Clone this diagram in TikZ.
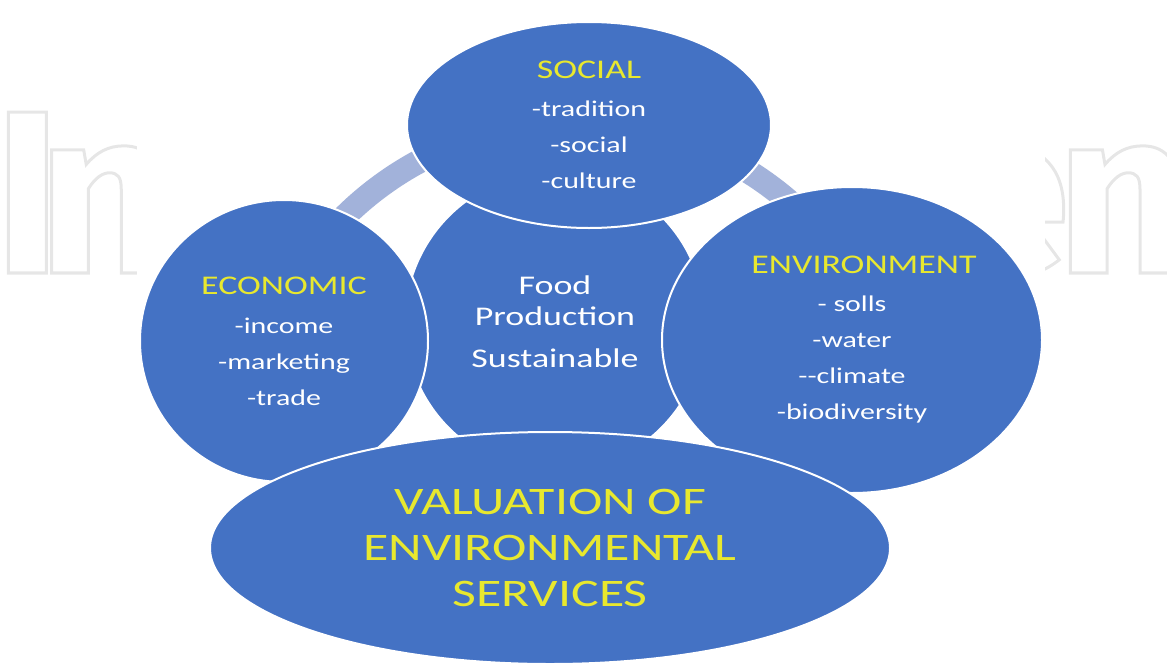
\documentclass[tikz,border=0pt]{standalone}
\usepackage{fontspec}
\setmainfont{Carlito}[FakeStretch=1.33]
\newfontfamily\markfont{Fira Sans}
\usetikzlibrary{shapes.geometric}
\definecolor{blobblue}{HTML}{4472C4}
\definecolor{ringblue}{HTML}{A2B2DA}
\definecolor{headyellow}{HTML}{E8E82E}
\definecolor{markgray}{HTML}{E6E6E6}
\newcommand{\head}[1]{{\color{headyellow}\fontsize{27}{36}\selectfont #1}}
\newcommand{\outlined}[1]{\special{pdf:literal direct 1 Tr 3 w}#1\special{pdf:literal direct 0 Tr}}

\begin{document}
\begin{tikzpicture}
    [x=1pt,y=-1pt,
     blob/.style={shape=ellipse,fill=blobblue,draw=white,line width=2pt,inner sep=0pt,
       text=white,align=center,font=\fontsize{22.5}{36}\selectfont},
     ring/.style={draw=ringblue,line width=24pt},
     wmark/.style={inner sep=0pt,text=markgray,font=\fontsize{232}{232}\selectfont\markfont\bfseries}]
  \useasboundingbox (0,0) rectangle (1167,664);
  \node [wmark,anchor=base west] (markleft) at (-7,273) {\outlined{I\kern-24pt n}};
  \node [wmark,anchor=base east] (markright) at (1190,273) {\outlined{e\kern-14pt n}};
  \fill [white] (137,0) rectangle (1045,664);
  \coordinate (hub) at (575,450);
  \draw [ring] (hub) ++(-140:328) arc [start angle=-140,end angle=-40,radius=328];
  \node [blob,minimum width=300pt,minimum height=300pt,font=\fontsize{27}{31}\selectfont] (food)
    at (555,322) {Food\\Production\\[11pt]Sustainable};
  \node [blob,minimum width=364pt,minimum height=206pt] (social) at (589,125)
    {\head{SOCIAL}\\[2pt]-tradition\\-social\\-culture};
  \node [blob,minimum width=288pt,minimum height=282pt] (econ) at (284,341)
    {\head{ECONOMIC}\\[3pt]-income\\-marketing\\-trade};
  \node [blob,minimum width=380pt,minimum height=306pt] (env) at (852,340)
    {\hspace*{24pt}\head{ENVIRONMENT}\\[2pt]- solls\\-water\\-{}-climate\\-biodiversity};
  \node [blob,minimum width=680pt,minimum height=232pt,text=headyellow,
    font=\fontsize{39}{46}\selectfont] (value) at (550,548)
    {VALUATION OF\\ENVIRONMENTAL\\SERVICES};
\end{tikzpicture}
\end{document}
